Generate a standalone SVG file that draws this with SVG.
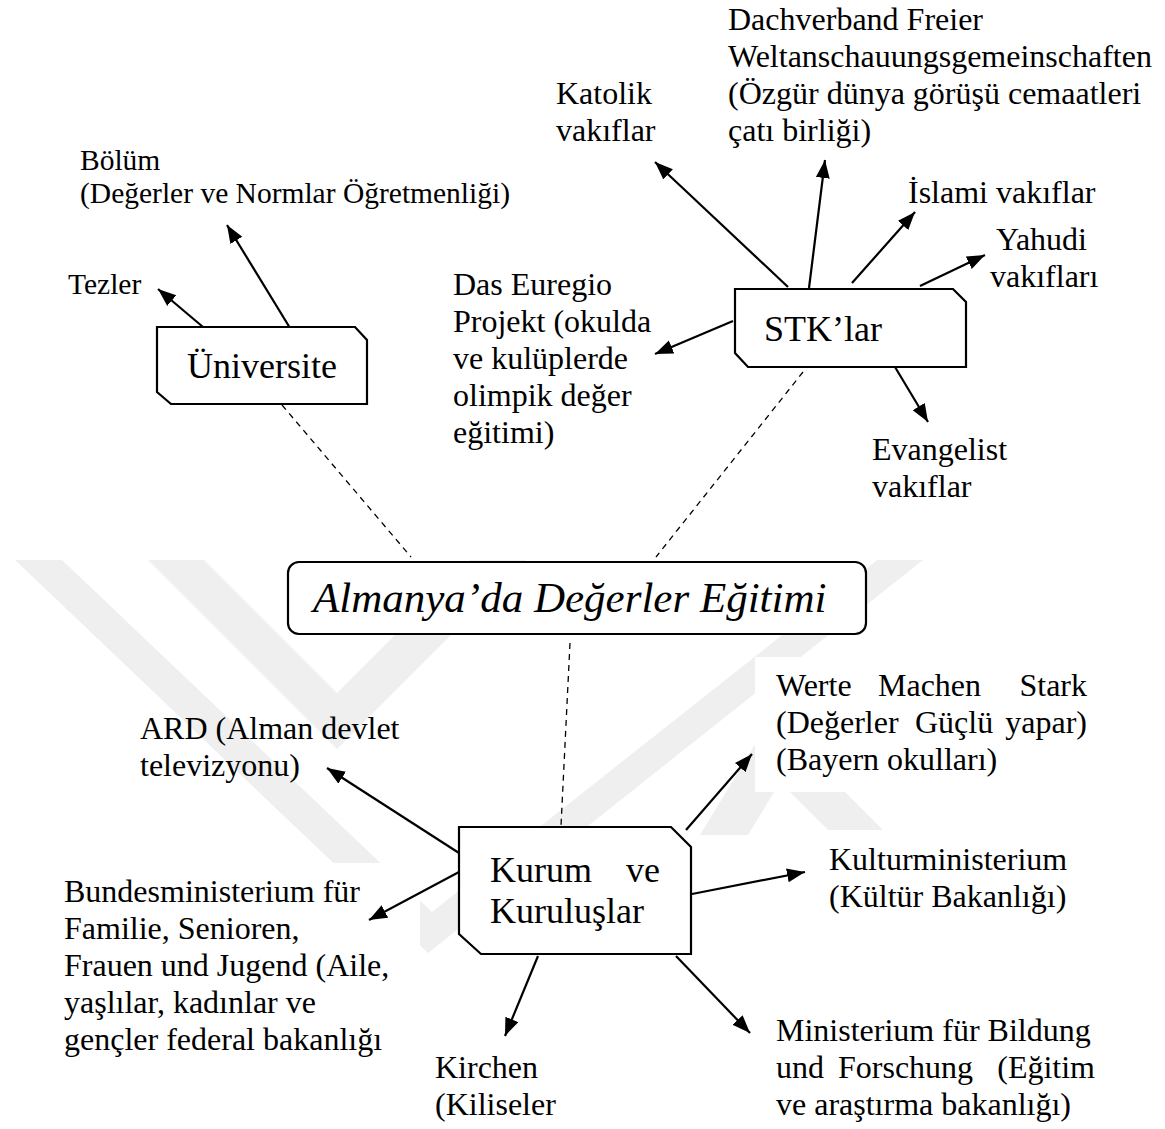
<svg xmlns="http://www.w3.org/2000/svg" width="1165" height="1129" viewBox="0 0 1165 1129">
<style>
.t{font-family:"Liberation Serif","Times New Roman",serif;font-size:32px;fill:#000}
.ts{font-family:"Liberation Serif","Times New Roman",serif;font-size:29.5px;fill:#000}
.tn{font-family:"Liberation Serif","Times New Roman",serif;font-size:36px;fill:#000}
.ti{font-family:"Liberation Serif","Times New Roman",serif;font-size:43px;font-style:italic;fill:#000}
.node{fill:#fff;stroke:#000;stroke-width:2.2}
.arr{stroke:#000;stroke-width:2.2;fill:none;marker-end:url(#ah)}
.dash{stroke:#000;stroke-width:1.3;fill:none;stroke-dasharray:6 5}
.wm{fill:#efefef}
.cover{fill:#fff}
</style>
<defs>
<marker id="ah" markerUnits="userSpaceOnUse" markerWidth="20" markerHeight="16" refX="18" refY="7" orient="auto">
<path d="M0,0 L18,7 L0,14 z" fill="#000"/>
</marker>
</defs>
<rect width="1165" height="1129" fill="#fff"/>
<g id="watermark">
<polygon class="wm" points="15,560 62,560 432,912 877,560 923,560 428,953"/>
<polygon class="wm" points="148,560 204,560 337,693 470,560 526,560 337,749"/>
<polygon class="wm" points="700,835 748,835 856,657 808,657"/>
<polygon class="wm" points="790,792 845,792 905,852 850,852"/>
<rect class="cover" x="755" y="657" width="250" height="135"/>
<rect class="cover" x="808" y="830" width="292" height="88"/>
<rect class="cover" x="55" y="863" width="365" height="197"/>
</g>
<g id="connectors">
<line class="arr" x1="203" y1="327" x2="158" y2="289"/>
<line class="arr" x1="290" y1="328" x2="227" y2="225"/>
<line class="dash" x1="282" y1="405" x2="411" y2="557"/>
<line class="arr" x1="788" y1="287" x2="655" y2="162"/>
<line class="arr" x1="809" y1="288" x2="825" y2="160"/>
<line class="arr" x1="852" y1="283" x2="915" y2="212"/>
<line class="arr" x1="920" y1="286" x2="985" y2="255"/>
<line class="arr" x1="733" y1="321" x2="655" y2="354"/>
<line class="arr" x1="895" y1="367" x2="928" y2="422"/>
<line class="dash" x1="803" y1="372" x2="656" y2="557"/>
<line class="dash" x1="570" y1="643" x2="561" y2="826"/>
<line class="arr" x1="459" y1="853" x2="327" y2="768"/>
<line class="arr" x1="459" y1="872" x2="369" y2="920"/>
<line class="arr" x1="538" y1="956" x2="505" y2="1036"/>
<line class="arr" x1="676" y1="956" x2="750" y2="1033"/>
<line class="arr" x1="692" y1="894" x2="805" y2="872"/>
<line class="arr" x1="686" y1="830" x2="752" y2="754"/>
</g>
<g id="node-universite">
<polygon class="node" points="157,327 355,327 367,340 367,404 171,404 157,392"/>
<text class="tn" x="262" y="378" text-anchor="middle">Üniversite</text>
</g>
<g id="node-stk">
<polygon class="node" points="735,289 953,289 966,302 966,367 748,367 735,353"/>
<text class="tn" x="764" y="341">STK’lar</text>
</g>
<g id="node-center">
<rect class="node" x="288" y="562" width="578" height="72" rx="11"/>
<text class="ti" x="313" y="612">Almanya’da Değerler Eğitimi</text>
</g>
<g id="node-kurum">
<polygon class="node" points="459,827 671,827 691,847 691,954 481,954 459,934"/>
<text class="tn" x="490" y="882">Kurum</text>
<text class="tn" x="660" y="882" text-anchor="end">ve</text>
<text class="tn" x="490" y="923">Kuruluşlar</text>
</g>
<g id="label-tezler"><text class="ts" x="68" y="294">Tezler</text></g>
<g id="label-bolum">
<text class="ts" x="80" y="170">Bölüm</text>
<text class="ts" x="80" y="203">(Değerler ve Normlar Öğretmenliği)</text>
</g>
<g id="label-katolik">
<text class="t" x="556" y="104">Katolik</text>
<text class="t" x="556" y="141">vakıflar</text>
</g>
<g id="label-dachverband">
<text class="t" x="728" y="30">Dachverband Freier</text>
<text class="t" x="728" y="67">Weltanschauungsgemeinschaften</text>
<text class="t" x="728" y="104">(Özgür dünya görüşü cemaatleri</text>
<text class="t" x="728" y="141">çatı birliği)</text>
</g>
<g id="label-islami"><text class="t" x="908" y="203">İslami vakıflar</text></g>
<g id="label-yahudi">
<text class="t" x="996" y="250">Yahudi</text>
<text class="t" x="990" y="287">vakıfları</text>
</g>
<g id="label-euregio">
<text class="t" x="453" y="295">Das Euregio</text>
<text class="t" x="453" y="332">Projekt (okulda</text>
<text class="t" x="453" y="369">ve kulüplerde</text>
<text class="t" x="453" y="406">olimpik değer</text>
<text class="t" x="453" y="443">eğitimi)</text>
</g>
<g id="label-evangelist">
<text class="t" x="872" y="460">Evangelist</text>
<text class="t" x="872" y="497">vakıflar</text>
</g>
<g id="label-ard">
<text class="t" x="140" y="739">ARD (Alman devlet</text>
<text class="t" x="140" y="776">televizyonu)</text>
</g>
<g id="label-werte">
<text class="t" x="776" y="696">Werte</text>
<text class="t" x="878" y="696">Machen</text>
<text class="t" x="1087" y="696" text-anchor="end">Stark</text>
<text class="t" x="776" y="733">(Değerler</text>
<text class="t" x="915" y="733">Güçlü</text>
<text class="t" x="1087" y="733" text-anchor="end">yapar)</text>
<text class="t" x="776" y="770">(Bayern okulları)</text>
</g>
<g id="label-kultur">
<text class="t" x="829" y="870">Kulturministerium</text>
<text class="t" x="829" y="907">(Kültür Bakanlığı)</text>
</g>
<g id="label-bundes">
<text class="t" x="64" y="902">Bundesministerium für</text>
<text class="t" x="64" y="939">Familie, Senioren,</text>
<text class="t" x="64" y="976">Frauen und Jugend (Aile,</text>
<text class="t" x="64" y="1013">yaşlılar, kadınlar ve</text>
<text class="t" x="64" y="1050">gençler federal bakanlığı</text>
</g>
<g id="label-kirchen">
<text class="t" x="435" y="1078">Kirchen</text>
<text class="t" x="435" y="1115">(Kiliseler</text>
</g>
<g id="label-ministerium">
<text class="t" x="776" y="1041">Ministerium für Bildung</text>
<text class="t" x="776" y="1078">und</text>
<text class="t" x="838" y="1078">Forschung</text>
<text class="t" x="1095" y="1078" text-anchor="end">(Eğitim</text>
<text class="t" x="776" y="1115">ve araştırma bakanlığı)</text>
</g>
</svg>
